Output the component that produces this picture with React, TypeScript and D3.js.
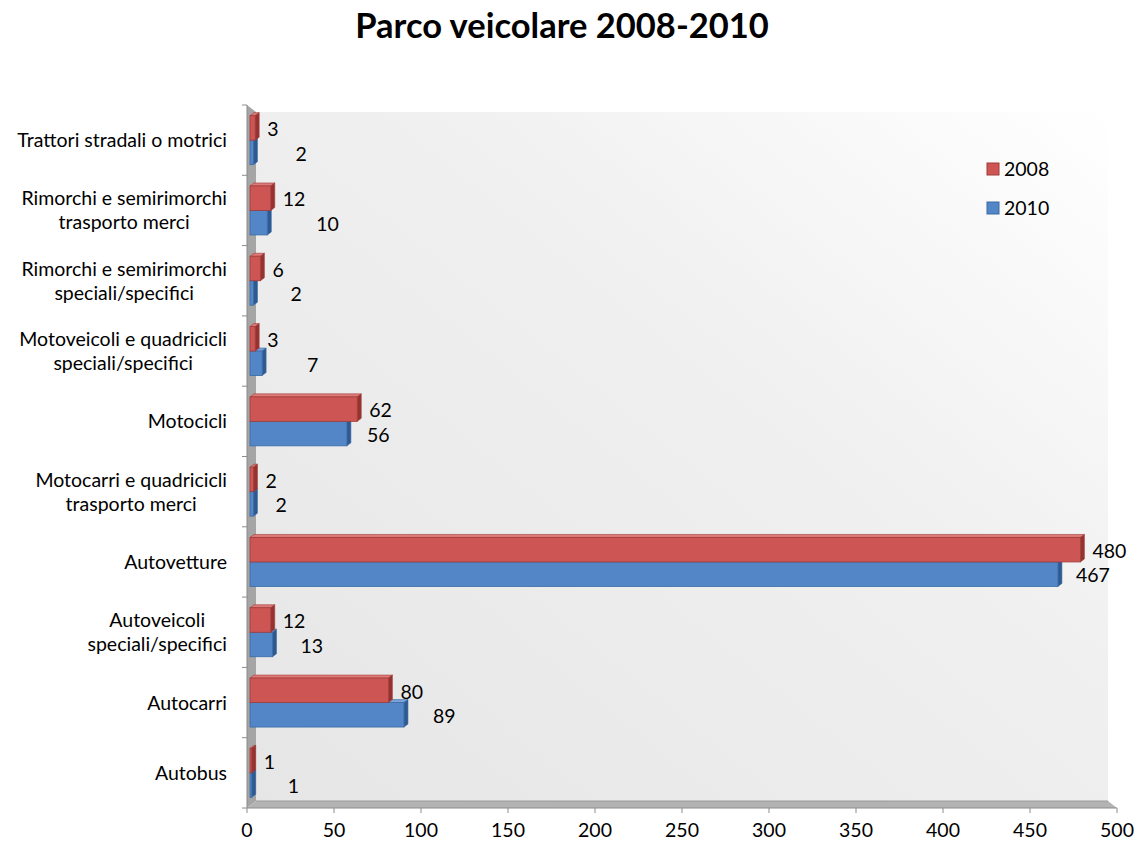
import { useEffect } from 'react'
import * as d3 from 'd3'

// categories top to bottom, "\n" splits the label lines
const categories = [
  'Trattori stradali o motrici',
  'Rimorchi e semirimorchi\ntrasporto merci',
  'Rimorchi e semirimorchi\nspeciali/specifici',
  'Motoveicoli e quadricicli\nspeciali/specifici',
  'Motocicli',
  'Motocarri e quadricicli\ntrasporto merci',
  'Autovetture',
  'Autoveicoli \nspeciali/specifici',
  'Autocarri',
  'Autobus',
]
const values2008 = [3, 12, 6, 3, 62, 2, 480, 12, 80, 1]
const values2010 = [2, 10, 2, 7, 56, 2, 467, 13, 89, 1]
const xTicks = [0, 50, 100, 150, 200, 250, 300, 350, 400, 450, 500]
const seriesNames = ['2008', '2010']

// the 2010 labels sit at uneven distances from their bars in the original
const labelShift2010 = [42, 49, 37, 45, 20, 22, 18, 28, 29, 36]

const FONT = 'Lato, "Open Sans", sans-serif'
const RED = { front: '#cd5553', side: '#963331', top: '#de7a77', stroke: '#a03c3a' }
const BLUE = { front: '#5286c6', side: '#2e5a91', top: '#7aa3d8', stroke: '#3b6aa6' }

const W = 1136
const H = 843
const left = 247
const right = 1117
const top = 105
const bottom = 808
const dx = 9
const dy = 7

let canvasCtx: CanvasRenderingContext2D | null = null
function textWidth(s: string, size: number) {
  if (!canvasCtx) canvasCtx = document.createElement('canvas').getContext('2d')
  if (!canvasCtx) return s.length * size * 0.5
  canvasCtx.font = `${size}px ${FONT}`
  return canvasCtx.measureText(s).width
}

export default function App() {
  useEffect(() => {
    document.body.style.margin = '0'
  }, [])

  const x = d3.scaleLinear().domain([0, 500]).range([left, right])
  const xBar = d3.scaleLinear().domain([0, 500]).range([left + 3, left + 3 + 865])
  const y = d3.scaleBand<number>().domain(d3.range(categories.length)).range([top, bottom])
  const sub = d3.scaleBand<number>().domain([0, 1]).range([0, 49])

  const pts = (p: [number, number][]) => p.map(q => q.join(',')).join(' ')

  const bar = (v: number, i: number, s: number) => {
    const colors = s === 0 ? RED : BLUE
    const y0 = (y(i) ?? 0) + y.bandwidth() / 2 - 24.5 + (sub(s) ?? 0)
    const h = sub.bandwidth()
    const x0 = xBar(0)
    const x1 = xBar(v)
    const d = 4
    const e = 3
    return (
      <g key={`b${s}-${i}`}>
        <polygon points={pts([[x0, y0], [x0 + d, y0 - e], [x1 + d, y0 - e], [x1, y0]])} fill={colors.top} stroke={colors.stroke} strokeWidth={0.6} />
        <polygon points={pts([[x1, y0], [x1 + d, y0 - e], [x1 + d, y0 + h - e], [x1, y0 + h]])} fill={colors.side} stroke={colors.stroke} strokeWidth={0.6} />
        <rect x={x0} y={y0} width={x1 - x0} height={h} fill={colors.front} stroke={colors.stroke} strokeWidth={0.8} />
      </g>
    )
  }

  const labelSize = 19.5

  return (
    <svg width={W} height={H} style={{ display: 'block', fontFamily: FONT }}>
      <defs>
        <linearGradient id="wall" x1="0" y1="1" x2="1" y2="0">
          <stop offset="0" stopColor="#e6e6e6" />
          <stop offset="0.6" stopColor="#f0f0f0" />
          <stop offset="1" stopColor="#ffffff" />
        </linearGradient>
      </defs>

      <text x={562} y={38} textAnchor="middle" fontSize={34.5} fontWeight="bold" fill="#000">
        Parco veicolare 2008-2010
      </text>

      {/* walls and floor */}
      <rect x={left + dx} y={top + dy} width={right - dx - left - dx} height={bottom - dy - top - dy} fill="url(#wall)" />
      <polygon points={pts([[left, top], [left + dx, top + dy], [left + dx, bottom - dy], [left, bottom]])} fill="#a5a5a5" />
      <polygon points={pts([[left, bottom], [left + dx, bottom - dy], [right - dx, bottom - dy], [right, bottom]])} fill="#b3b3b3" />
      <line x1={left + dx} y1={bottom - dy} x2={right - dx} y2={bottom - dy} stroke="#9a9a9a" strokeWidth={1} />

      {/* axes */}
      <line x1={left} y1={top} x2={left} y2={bottom} stroke="#8c8c8c" strokeWidth={1} />
      <line x1={left} y1={bottom} x2={right} y2={bottom} stroke="#8c8c8c" strokeWidth={1} />
      {d3.range(categories.length + 1).map(k => {
        const yy = top + k * y.step()
        return <line key={`yt${k}`} x1={left - 5} x2={left} y1={yy} y2={yy} stroke="#8c8c8c" />
      })}
      {xTicks.map(t => (
        <g key={`xt${t}`}>
          <line x1={x(t)} x2={x(t)} y1={bottom} y2={bottom + 5} stroke="#8c8c8c" />
          <text x={x(t)} y={837} textAnchor="middle" fontSize={labelSize} fill="#000">{t}</text>
        </g>
      ))}

      {/* category labels, centred block right-aligned to the axis */}
      {categories.map((c, i) => {
        const lines = c.split('\n')
        const wMax = d3.max(lines, l => textWidth(l.trim(), labelSize)) ?? 0
        const cx = 227 - wMax / 2
        const cy = (y(i) ?? 0) + y.bandwidth() / 2
        const lh = 24
        return (
          <text key={`c${i}`} x={cx} textAnchor="middle" fontSize={labelSize} fill="#000">
            {lines.map((l, j) => (
              <tspan key={j} x={cx} y={cy + 7 + (j - (lines.length - 1) / 2) * lh}>{l.trim()}</tspan>
            ))}
          </text>
        )
      })}

      {/* bars: 2010 below, drawn first so 2008 sits on top */}
      {values2010.map((v, i) => bar(v, i, 1))}
      {values2008.map((v, i) => bar(v, i, 0))}

      {/* value labels */}
      {values2008.map((v, i) => (
        <text key={`l8${i}`} x={xBar(v) + 12} y={(y(i) ?? 0) + y.bandwidth() / 2 - 24.5 + 12.5 + 8} fontSize={labelSize} fill="#000">{v}</text>
      ))}
      {values2010.map((v, i) => (
        <text key={`l0${i}`} x={xBar(v) + labelShift2010[i]} y={(y(i) ?? 0) + y.bandwidth() / 2 + 12.5 + 8} fontSize={labelSize} fill="#000">{v}</text>
      ))}

      {/* legend */}
      {seriesNames.map((n, s) => {
        const c = s === 0 ? RED : BLUE
        const ly = 169 + s * 39
        return (
          <g key={`lg${n}`}>
            <rect x={987} y={ly - 6} width={12} height={12} fill={c.front} stroke={c.stroke} strokeWidth={1} />
            <text x={1004} y={ly + 7} fontSize={labelSize} fill="#000">{n}</text>
          </g>
        )
      })}
    </svg>
  )
}
